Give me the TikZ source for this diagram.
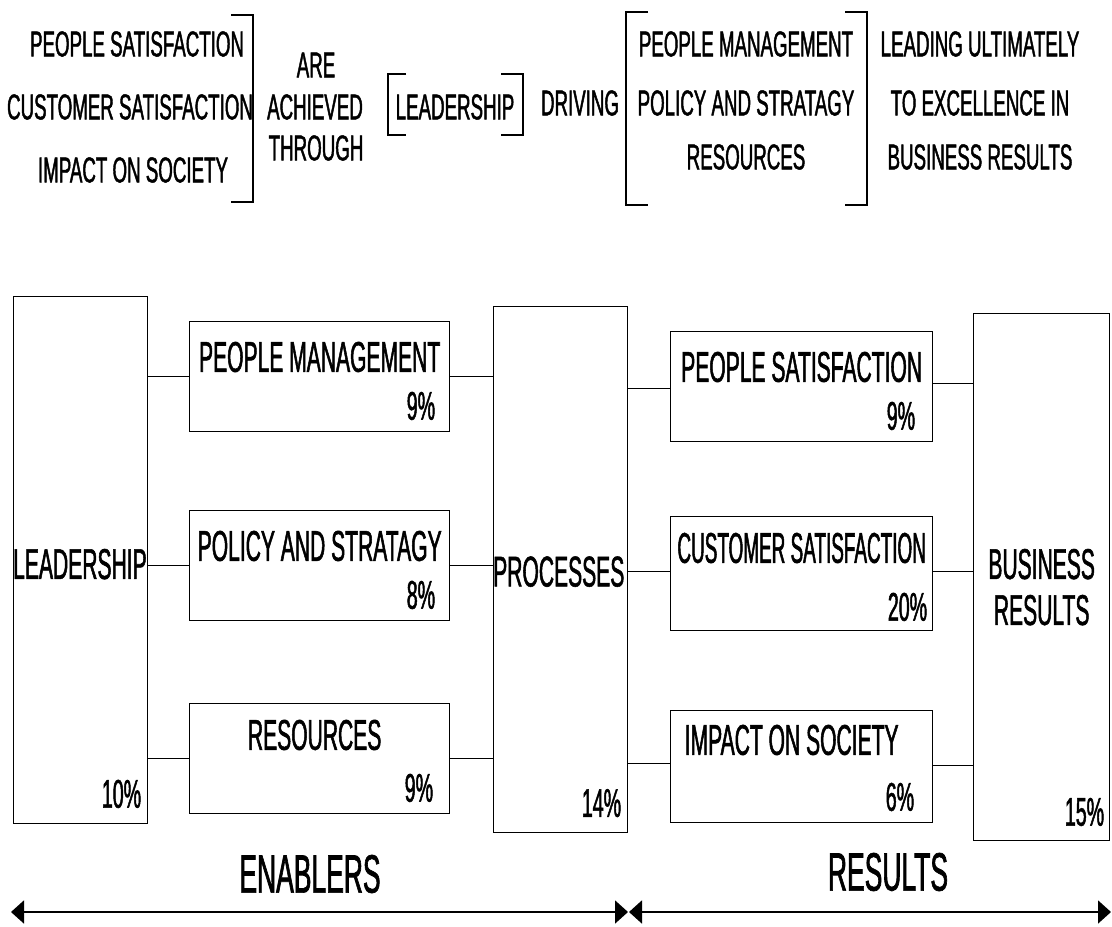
\documentclass[tikz,border=0pt]{standalone}
\usepackage{fontspec}
\setmainfont[FakeStretch=0.49,FakeBold=1.2]{Liberation Sans}
\newfontfamily\topfont[FakeStretch=0.52,FakeBold=1.2]{Liberation Sans}
\newfontfamily\narrowfont[FakeStretch=0.44,FakeBold=1.2]{Liberation Sans}
\usetikzlibrary{arrows.meta}
\begin{document}
\begin{tikzpicture}[x=1pt,y=-1pt,
  box/.style={draw, line width=1.3pt, inner sep=0pt, anchor=north west},
  toptxt/.style={inner sep=0pt, font=\topfont\fontsize{36}{40}\selectfont, align=center},
  boxtxt/.style={inner sep=0pt, font=\fontsize{43}{46}\selectfont, align=center},
  pct/.style={inner sep=0pt, font=\fontsize{40}{42}\selectfont, anchor=south east},
  bigtxt/.style={inner sep=0pt, font=\fontsize{54}{56}\selectfont},
  conn/.style={line width=1pt},
  brk/.style={line width=1.3pt},
  arr/.style={line width=1.8pt, {Triangle[length=13pt,width=23pt]}-{Triangle[length=13pt,width=23pt]}}]
\useasboundingbox (0,0) rectangle (1112,927);

% ---------- top sentence ----------
\node[toptxt] (t1) at (137,44) {PEOPLE SATISFACTION};
\node[toptxt] (t2) at (130,107) {CUSTOMER SATISFACTION};
\node[toptxt] (t3) at (133,170) {IMPACT ON SOCIETY};
\draw[brk] (231,15) -- (253,15) -- (253,202) -- (231,202);

\node[toptxt] (are) at (316,65) {ARE};
\node[toptxt] (ach) at (315,107) {ACHIEVED};
\node[toptxt] (thr) at (316,148) {THROUGH};

\node[toptxt] (tl) at (455,107) {LEADERSHIP};
\draw[brk] (406,74) -- (388,74) -- (388,135) -- (406,135);
\draw[brk] (501,74) -- (523,74) -- (523,135) -- (501,135);

\node[toptxt] (drv) at (580,103) {DRIVING};
\draw[brk] (648,12) -- (626,12) -- (626,205) -- (648,205);
\node[toptxt] (m1) at (746,44) {PEOPLE MANAGEMENT};
\node[toptxt] (m2) at (746,103) {POLICY AND STRATAGY};
\node[toptxt] (m3) at (746,157) {RESOURCES};
\draw[brk] (845,12) -- (867,12) -- (867,205) -- (845,205);

\node[toptxt] (r1) at (980,44) {LEADING ULTIMATELY};
\node[toptxt] (r2) at (980,103) {TO EXCELLENCE IN};
\node[toptxt] (r3) at (980,157) {BUSINESS RESULTS};

% ---------- boxes ----------
\node[box, minimum width=134pt, minimum height=527pt] (lead) at (13,296) {};
\node[box, minimum width=260pt, minimum height=110pt] (pm)  at (189,321) {};
\node[box, minimum width=260pt, minimum height=110pt] (ps)  at (189,510) {};
\node[box, minimum width=260pt, minimum height=110pt] (res) at (189,703) {};
\node[box, minimum width=134pt, minimum height=526pt] (proc) at (493,306) {};
\node[box, minimum width=262pt, minimum height=110pt] (psat) at (670,331) {};
\node[box, minimum width=262pt, minimum height=114pt] (csat) at (670,516) {};
\node[box, minimum width=262pt, minimum height=112pt] (ios)  at (670,710) {};
\node[box, minimum width=136pt, minimum height=527pt] (br)   at (973,313) {};

% ---------- box texts ----------
\node[boxtxt, anchor=west] (leadT) at ([yshift=-4]lead.west) {LEADERSHIP};
\node[pct] (leadP) at ([shift={(-7,-16)}]lead.south east) {10\%};
\node[boxtxt] (pmT) at ([yshift=-36]pm.north) {PEOPLE MANAGEMENT};
\node[pct] (pmP) at ([shift={(-15,-12)}]pm.south east) {9\%};
\node[boxtxt] (psT) at ([yshift=-36]ps.north) {POLICY AND STRATAGY};
\node[pct] (psP) at ([shift={(-15,-12)}]ps.south east) {8\%};
\node[boxtxt] (resT) at ([shift={(-5,32)}]res.north) {RESOURCES};
\node[pct] (resP) at ([shift={(-17,-12)}]res.south east) {9\%};
\node[boxtxt, anchor=west] (procT) at ([yshift=-2]proc.west) {PROCESSES};
\node[pct] (procP) at ([shift={(-7,-16)}]proc.south east) {14\%};
\node[boxtxt] (psatT) at ([yshift=-36]psat.north) {PEOPLE SATISFACTION};
\node[pct] (psatP) at ([shift={(-18,-12)}]psat.south east) {9\%};
\node[boxtxt, font=\narrowfont\fontsize{43}{46}\selectfont] (csatT) at ([yshift=-32]csat.north) {CUSTOMER SATISFACTION};
\node[pct] (csatP) at ([shift={(-6,-10)}]csat.south east) {20\%};
\node[boxtxt] (iosT) at ([shift={(-10,30)}]ios.north) {IMPACT ON SOCIETY};
\node[pct] (iosP) at ([shift={(-19,-12)}]ios.south east) {6\%};
\node[boxtxt] (brT) at ([yshift=-10]br.center) {BUSINESS\\RESULTS};
\node[pct] (brP) at ([shift={(-6,-15)}]br.south east) {15\%};

% ---------- connectors ----------
\coordinate (c1) at (pm.west);
\coordinate (c2) at (ps.west);
\coordinate (c3) at (res.west);
\coordinate (c4) at (pm.east);
\coordinate (c5) at (ps.east);
\coordinate (c6) at (res.east);
\coordinate (c7) at ([yshift=-2]psat.west);
\coordinate (c8) at ([yshift=2]csat.west);
\coordinate (c9) at ([yshift=3]ios.west);
\coordinate (c10) at ([yshift=3]psat.east);
\coordinate (c11) at ([yshift=2]csat.east);
\coordinate (c12) at ([yshift=1]ios.east);
\draw[conn] (c1) -- (lead.east |- c1);
\draw[conn] (c2) -- (lead.east |- c2);
\draw[conn] (c3) -- (lead.east |- c3);
\draw[conn] (c4) -- (proc.west |- c4);
\draw[conn] (c5) -- (proc.west |- c5);
\draw[conn] (c6) -- (proc.west |- c6);
\draw[conn] (c7) -- (proc.east |- c7);
\draw[conn] (c8) -- (proc.east |- c8);
\draw[conn] (c9) -- (proc.east |- c9);
\draw[conn] (c10) -- (br.west |- c10);
\draw[conn] (c11) -- (br.west |- c11);
\draw[conn] (c12) -- (br.west |- c12);

% ---------- bottom ----------
\node[bigtxt] (en) at (310,874) {ENABLERS};
\node[bigtxt] (rs) at (888,872) {RESULTS};
\coordinate (aL) at (11,912);
\coordinate (aM1) at (628,912);
\coordinate (aM2) at (629,912);
\coordinate (aR) at (1111,912);
\draw[arr] (aL) -- (aM1);
\draw[arr] (aM2) -- (aR);
\end{tikzpicture}
\end{document}
